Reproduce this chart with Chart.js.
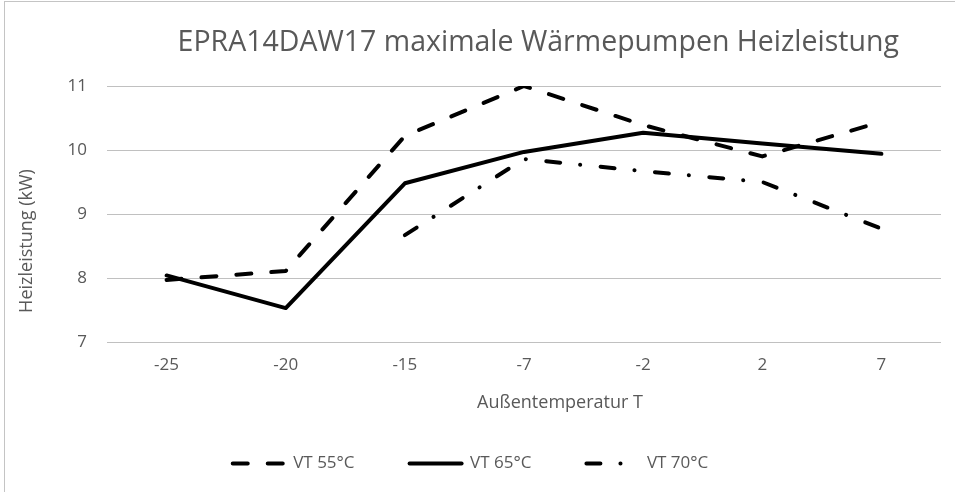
<!DOCTYPE html>
<html>
<head>
<meta charset="utf-8">
<script src="https://cdn.jsdelivr.net/npm/chart.js@4.4.1/dist/chart.umd.min.js"></script>
<style>
    html, body { margin: 0; padding: 0; background: #fff; overflow: hidden; }
    #frame { position: absolute; left: 4px; top: 1px; width: 1100px; height: 600px; border: 1px solid #c4c4c4; }
    #chart { position: absolute; left: 0; top: 0; }
</style>
</head>
<body>
<div id="frame"></div>
<canvas id="chart" width="955" height="492"></canvas>
<script>
    // --- Data ---
    const categories = ['-25', '-20', '-15', '-7', '-2', '2', '7'];
    const vt55 = [7.97, 8.11, 10.22, 11.0, 10.39, 9.9, 10.44];
    const vt65 = [8.04, 7.53, 9.48, 9.97, 10.27, 10.1, 9.94];
    const vt70 = [null, null, 8.67, 9.86, 9.67, 9.5, 8.77];
    const seriesNames = ['VT 55°C', 'VT 65°C', 'VT 70°C'];
    const yTicks = [7, 8, 9, 10, 11];

    const textColor = '#595959';
    const fontFamily = "'Open Sans', sans-serif";

    // legend gets a fixed height so the wide item spacing does not eat the plot
    const legendHeight = {
        id: 'legendHeight',
        beforeInit(chart) {
            const origFit = chart.legend.fit;
            chart.legend.fit = function() {
                origFit.bind(chart.legend)();
                this.height = 92;
            };
        }
    };

    function lineSet(label, data, dash) {
        return {
            label: label,
            data: data,
            borderColor: '#000',
            backgroundColor: '#000',
            borderWidth: 4,
            borderDash: dash,
            borderCapStyle: 'round',
            borderJoinStyle: 'round',
            pointRadius: 0,
            pointHoverRadius: 0,
            tension: 0,
            fill: false,
            spanGaps: false
        };
    }

    new Chart(document.getElementById('chart').getContext('2d'), {
        type: 'line',
        data: {
            labels: categories,
            datasets: [
                lineSet(seriesNames[0], vt55, [15, 20]),
                lineSet(seriesNames[1], vt65, []),
                lineSet(seriesNames[2], vt70, [14, 20, 0.1, 20.5])
            ]
        },
        options: {
            responsive: false,
            animation: false,
            layout: { padding: { left: 0, right: 14, top: 0, bottom: 0 } },
            scales: {
                x: {
                    type: 'category',
                    offset: true,
                    grid: { display: false, drawTicks: false },
                    border: { display: false },
                    ticks: { color: textColor, font: { family: fontFamily, size: 17 }, padding: 13 },
                    title: {
                        display: true,
                        text: '\u2003\u2003\u2003\u2003Außentemperatur T',
                        color: textColor,
                        font: { family: fontFamily, size: 18 },
                        padding: { top: 0, bottom: -13.5 }
                    },
                    afterFit(scale) { scale.height = 58; }
                },
                y: {
                    min: yTicks[0],
                    max: yTicks[yTicks.length - 1],
                    grid: { color: '#c0c0c0', lineWidth: 1, drawTicks: false },
                    border: { display: false },
                    afterBuildTicks(scale) { scale.ticks = yTicks.map(v => ({ value: v })); },
                    ticks: { color: textColor, font: { family: fontFamily, size: 17 }, padding: 20 },
                    title: {
                        display: true,
                        text: 'Heizleistung (kW)\u2003\u2003\u2003',
                        color: textColor,
                        font: { family: fontFamily, size: 18 },
                        padding: { top: 16, bottom: 0 }
                    },
                    afterFit(scale) { scale.width = 107; }
                }
            },
            plugins: {
                title: {
                    display: true,
                    text: '\u2003EPRA14DAW17 maximale Wärmepumpen Heizleistung',
                    color: textColor,
                    fullSize: false,
                    font: { family: fontFamily, size: 28.5, weight: 'normal' },
                    padding: { top: 26, bottom: 25.8 }
                },
                legend: {
                    position: 'bottom',
                    labels: {
                        color: textColor,
                        font: { family: fontFamily, size: 17 },
                        usePointStyle: true,
                        pointStyle: 'line',
                        pointStyleWidth: 52,
                        boxHeight: 17,
                        padding: 55,
                        generateLabels(chart) {
                            const items = Chart.defaults.plugins.legend.labels.generateLabels(chart);
                            items.forEach((item, i) => {
                                item.lineDash = chart.data.datasets[i].borderDash;
                                item.lineCap = 'round';
                                item.lineWidth = 4;
                                item.strokeStyle = '#000';
                            });
                            return items;
                        }
                    }
                },
                tooltip: { enabled: false }
            }
        },
        plugins: [legendHeight]
    });
</script>
</body>
</html>
